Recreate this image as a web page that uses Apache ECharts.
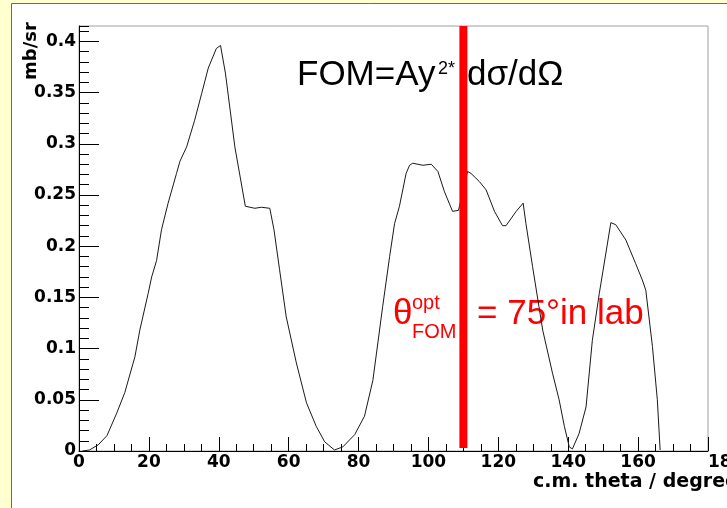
<!DOCTYPE html>
<html>
<head>
<meta charset="utf-8">
<title>FOM vs c.m. theta</title>
<script src="https://cdn.jsdelivr.net/npm/echarts@6/dist/echarts.min.js"></script>
<style>
html, body { margin: 0; padding: 0; background: #ffffd0; }
#fomChart { width: 727px; height: 508px; }
</style>
</head>
<body>
<div id="fomChart"></div>
<script>

// c.m. angle (degree) and FOM = Ay^2 * dsigma/dOmega (mb/sr)
var thetaCm = [1, 3, 5.5, 8, 10.8, 13.1, 16, 17.4, 19.8, 20.8, 22.2, 23.6, 25.5, 27.9, 28.9, 30.8,
	33.1, 35.1, 37, 39.3, 40.5, 41.9, 44.6, 47.6, 50.3, 52.2, 54.6, 55.8, 57.4, 59.3, 62.2, 65.1,
	67.9, 70.3, 73.1, 75.5, 78.9, 81.7, 84.1, 86.9, 88.9, 90.3, 91.7, 93.6, 94.6, 95.5, 98.4,
	100.8, 102.7, 104.6, 106.9, 108.6, 111.2, 112.2, 114.6, 116.5, 118.9, 121.2, 122.2, 125.1,
	127.1, 127.9, 129.8, 132.7, 135.5, 137.4, 138.9, 140.3, 141.2, 143.1, 145.1, 146.9, 148.9,
	152.2, 153.6, 156.5, 159.3, 161.2, 162.2, 164.1, 165.5, 166.3];
var fomValues = [0.000, 0.001, 0.006, 0.015, 0.037, 0.057, 0.092, 0.118, 0.154, 0.170, 0.186, 0.216,
	0.242, 0.271, 0.283, 0.297, 0.323, 0.349, 0.374, 0.393, 0.396, 0.369, 0.297, 0.239, 0.237,
	0.238, 0.237, 0.216, 0.177, 0.131, 0.086, 0.047, 0.024, 0.009, 0.001, 0.004, 0.016, 0.034,
	0.069, 0.141, 0.190, 0.222, 0.239, 0.271, 0.279, 0.281, 0.279, 0.280, 0.273, 0.253, 0.234,
	0.235, 0.273, 0.271, 0.263, 0.255, 0.234, 0.220, 0.220, 0.234, 0.242, 0.222, 0.180, 0.118,
	0.076, 0.050, 0.024, 0.004, 0.002, 0.017, 0.043, 0.108, 0.154, 0.223, 0.221, 0.206, 0.183,
	0.167, 0.157, 0.102, 0.050, 0.001];

// optimum angle marker (red bar)
var optAngle = 110;
var optRange = [0.003, 0.415];

var xRange = [0, 180];
var yRange = [0, 0.415];


var axisFont = 'DejaVu Sans';
var textFont = 'Liberation Sans';

function buildCurve() {
	var pts = [];
	for (var i = 0; i < thetaCm.length; i++) {
		pts.push([thetaCm[i], fomValues[i]]);
	}
	return pts;
}

function txt(x, y, text, size, color, extra) {
	var el = {
		type: 'text',
		x: x,
		y: y,
		z: 1,
		style: {
			text: text,
			fill: color,
			font: size + 'px "' + textFont + '"',
			textAlign: 'left',
			textVerticalAlign: 'middle',
			align: 'left',
			verticalAlign: 'middle'
		}
	};
	if (extra) {
		for (var k in extra) el.style[k] = extra[k];
	}
	return el;
}

var myChart = echarts.init(document.getElementById('fomChart'));

var labelStyle = {
	color: '#000',
	fontFamily: axisFont,
	fontWeight: 'bold',
	fontSize: 17
};

var option = {
	animation: false,
	backgroundColor: '#ffffd0',
	grid: {
		left: 79,
		right: 19,
		top: 26,
		bottom: 57,
		show: true,
		borderColor: '#a0a0a0',
		borderWidth: 1,
		outerBoundsMode: 'none'
	},
	xAxis: {
		type: 'value',
		min: xRange[0],
		max: xRange[1],
		interval: 20,
		axisLine: { show: true, onZero: false, lineStyle: { color: '#000', width: 1 } },
		axisTick: { show: true, inside: true, length: 14, lineStyle: { color: '#000' } },
		minorTick: { show: true, splitNumber: 4, length: 7, lineStyle: { color: '#000' } },
		axisLabel: Object.assign({ margin: 3, alignMaxLabel: 'left' }, labelStyle),
		splitLine: { show: false },
		minorSplitLine: { show: false }
	},
	yAxis: [
		{
			type: 'value',
			position: 'left',
			min: yRange[0],
			max: yRange[1],
			interval: 0.05,
			axisLine: { show: true, onZero: false, lineStyle: { color: '#000', width: 1 } },
			axisTick: { show: true, inside: true, length: 20, lineStyle: { color: '#000' } },
			axisLabel: Object.assign({ margin: 3, showMaxLabel: false }, labelStyle),
			splitLine: { show: false }
		},
		{
			// minor ticks every 0.01
			type: 'value',
			position: 'left',
			min: yRange[0],
			max: yRange[1],
			interval: 0.01,
			axisLine: { show: false },
			axisTick: { show: true, inside: true, length: 10, lineStyle: { color: '#000' } },
			axisLabel: { show: false },
			splitLine: { show: false }
		}
	],
	graphic: [
		{
			type: 'rect',
			z: -1,
			shape: { x: 11.5, y: 3.5, width: 730, height: 520 },
			style: { fill: '#ffffff', stroke: '#6e6e4a', lineWidth: 1 }
		},
		// formula title
		txt(297, 75, 'FOM=Ay', 35, '#000'),
		txt(438, 69, '2*', 18, '#000'),
		txt(467, 75, 'd\u03c3/d\u03a9', 35, '#000'),
		// optimum angle annotation
		txt(393, 314, '\u03b8', 35, '#ff0000'),
		txt(412, 303, 'opt', 20, '#ff0000'),
		txt(412, 332, 'FOM', 20, '#ff0000'),
		txt(477, 314, '= 75\u00b0in lab', 35, '#ff0000'),
		// axis titles
		{
			type: 'text',
			x: 533,
			y: 482,
			z: 1,
			style: {
				text: 'c.m. theta / degree',
				fill: '#000',
				font: 'bold 19px "' + axisFont + '"',
				textAlign: 'left', align: 'left',
				textVerticalAlign: 'middle', verticalAlign: 'middle'
			}
		},
		{
			type: 'text',
			x: 31,
			y: 51,
			z: 1,
			rotation: Math.PI / 2,
			style: {
				text: 'mb/sr',
				fill: '#000',
				font: 'bold 18px "' + axisFont + '"',
				textAlign: 'center', align: 'center',
				textVerticalAlign: 'middle', verticalAlign: 'middle'
			}
		}
	],
	series: [
		{
			name: 'FOM',
			type: 'line',
			yAxisIndex: 0,
			data: buildCurve(),
			symbol: 'none',
			smooth: false,
			lineStyle: { color: '#1a1a1a', width: 1 }
		},
		{
			name: 'optimum',
			type: 'line',
			yAxisIndex: 0,
			data: [[optAngle, optRange[0]], [optAngle, optRange[1]]],
			symbol: 'none',
			lineStyle: { color: '#ff0000', width: 8, cap: 'butt' }
		}
	]
};

myChart.setOption(option);

</script>
</body>
</html>
